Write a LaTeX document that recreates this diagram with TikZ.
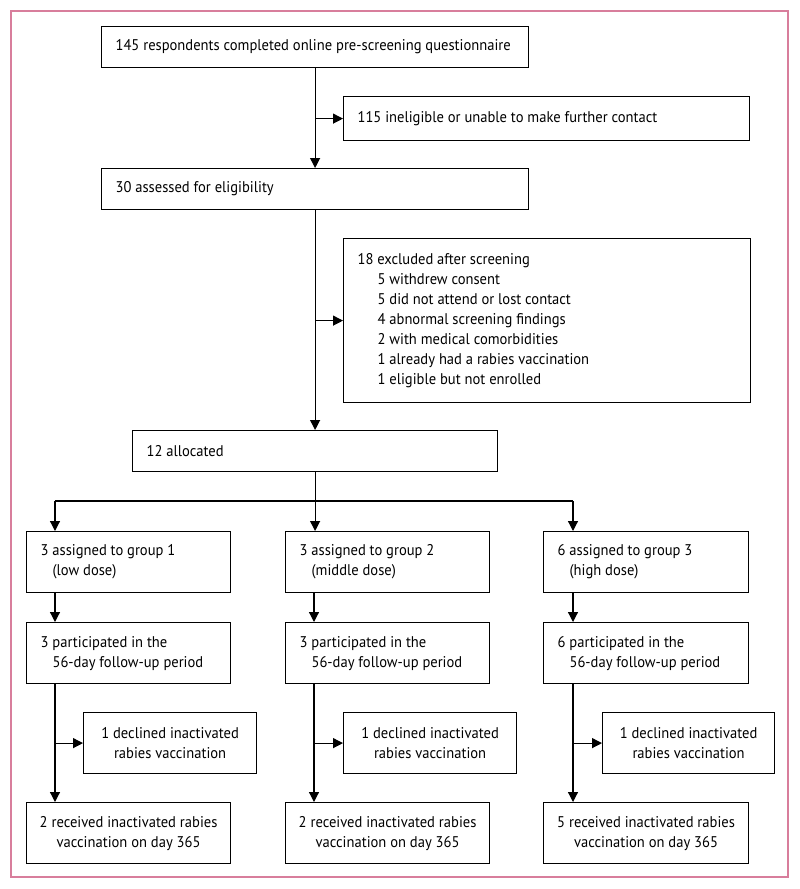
\documentclass[tikz,border=0pt]{standalone}
\usepackage{fontspec}
\setmainfont{PT Sans}[FakeStretch=0.94]
\usetikzlibrary{arrows.meta,calc}
\definecolor{framecol}{RGB}{216,126,156}
\begin{document}
\begin{tikzpicture}[x=1pt,y=-1pt,
  box/.style={draw, line width=1.2pt, anchor=north west, inner xsep=14pt, inner ysep=0pt, align=flush left, font=\fontsize{15.5}{20}\selectfont},
  cbox/.style={box, align=flush center, inner xsep=6pt},
  arr/.style={line width=1.2pt, -{Triangle[length=10pt,width=10pt]}},
  ln/.style={line width=1.2pt}]
\useasboundingbox (0,0) rectangle (800,889);
\draw[framecol, line width=1.3pt] (11,11) rectangle (788,877);

\node[box, text width=399pt, minimum height=41pt] (A) at (101,26) {145 respondents completed online pre-screening questionnaire};
\node[box, text width=378pt, minimum height=44pt] (B) at (343,96) {115 ineligible or unable to make further contact};
\node[box, text width=399pt, minimum height=41pt] (C) at (101,168) {30 assessed for eligibility};
\node[box, text width=379pt, minimum height=164pt] (D) at (343,238) {18 excluded after screening\\
\hspace*{20pt}5 withdrew consent\\
\hspace*{20pt}5 did not attend or lost contact\\
\hspace*{20pt}4 abnormal screening findings\\
\hspace*{20pt}2 with medical comorbidities\\
\hspace*{20pt}1 already had a rabies vaccination\\
\hspace*{20pt}1 eligible but not enrolled};
\node[box, text width=337pt, minimum height=41pt] (E) at (132,430) {12 allocated};

\node[box, text width=176pt, minimum height=61pt] (G1) at (26,531) {3 assigned to group 1\\\hspace*{12pt}(low dose)};
\node[box, text width=176pt, minimum height=61pt] (G2) at (285,531) {3 assigned to group 2\\\hspace*{12pt}(middle dose)};
\node[box, text width=177pt, minimum height=61pt] (G3) at (543,531) {6 assigned to group 3\\\hspace*{12pt}(high dose)};

\node[box, text width=176pt, minimum height=61pt] (P1) at (26,622) {3 participated in the\\\hspace*{12pt}56-day follow-up period};
\node[box, text width=176pt, minimum height=61pt] (P2) at (285,622) {3 participated in the\\\hspace*{12pt}56-day follow-up period};
\node[box, text width=177pt, minimum height=61pt] (P3) at (543,622) {6 participated in the\\\hspace*{12pt}56-day follow-up period};

\node[cbox, text width=161pt, minimum height=61pt] (D1) at (83,712) {1 declined inactivated\\rabies vaccination};
\node[cbox, text width=161pt, minimum height=61pt] (D2) at (343,712) {1 declined inactivated\\rabies vaccination};
\node[cbox, text width=160pt, minimum height=61pt] (D3) at (602,712) {1 declined inactivated\\rabies vaccination};

\node[cbox, text width=192pt, minimum height=61pt] (F1) at (26,802) {2 received inactivated rabies\\vaccination on day 365};
\node[cbox, text width=192pt, minimum height=61pt] (F2) at (285,802) {2 received inactivated rabies\\vaccination on day 365};
\node[cbox, text width=193pt, minimum height=61pt] (F3) at (543,802) {5 received inactivated rabies\\vaccination on day 365};

\coordinate (k1) at (55,0);
\coordinate (k2) at (314,0);
\coordinate (k3) at (573,0);
\coordinate (split) at (0,501);

\draw[arr] (A.south) -- (C.north);
\draw[arr] (B.west -| A.south) -- (B.west);
\draw[arr] (C.south) -- (E.north);
\draw[arr] (D.west -| C.south) -- (D.west);
\draw[arr] (E.south) -- (G2.north -| E.south);
\draw[ln] (split -| k1) -- (split -| k3);
\draw[arr] (split -| k1) -- (G1.north -| k1);
\draw[arr] (split -| k3) -- (G3.north -| k3);

\foreach \i in {1,2,3}{
  \draw[arr] (G\i.south -| k\i) -- (P\i.north -| k\i);
  \draw[arr] (P\i.south -| k\i) -- (F\i.north -| k\i);
  \draw[arr] (D\i.west -| k\i) -- (D\i.west);
}
\end{tikzpicture}
\end{document}
